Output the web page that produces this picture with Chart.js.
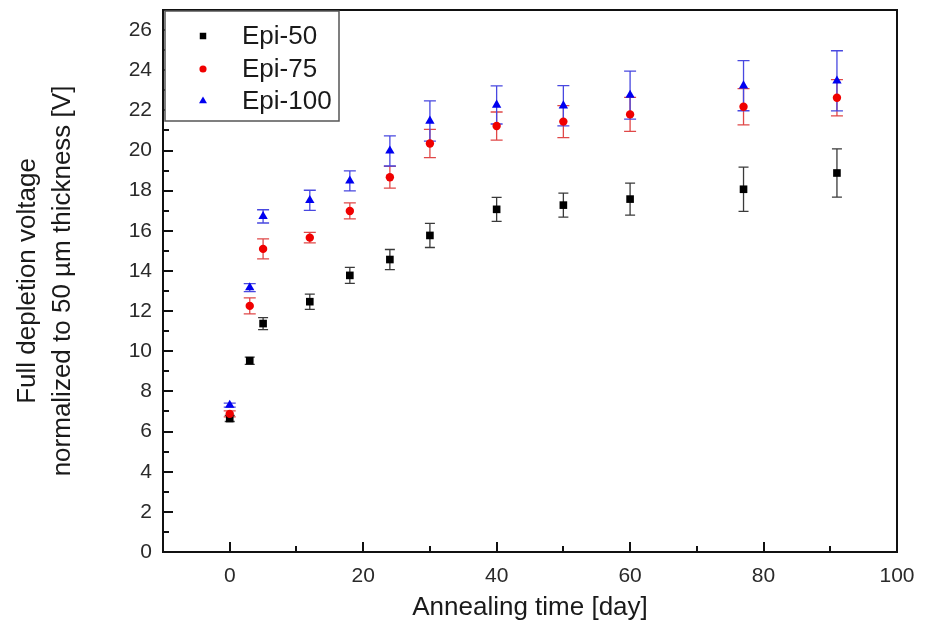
<!DOCTYPE html>
<html><head><meta charset="utf-8">
<script src="https://cdn.jsdelivr.net/npm/chart.js@4.4.1/dist/chart.umd.min.js"></script>
<style>html,body{margin:0;padding:0;background:#fff;}#wrap{width:937px;height:631px;}</style>
</head><body><div id="wrap"><canvas id="c" width="937" height="631"></canvas></div>
<script>
const days = [0, 3, 5, 12, 18, 24, 30, 40, 50, 60, 77, 91];
const epi50 = [6.65, 9.53, 11.38, 12.47, 13.78, 14.57, 15.77, 17.07, 17.28, 17.58, 18.07, 18.88];
const err50 = [0.15, 0.18, 0.3, 0.38, 0.4, 0.5, 0.6, 0.6, 0.6, 0.8, 1.1, 1.2];
const epi75 = [6.88, 12.26, 15.1, 15.66, 16.99, 18.67, 20.35, 21.22, 21.44, 21.8, 22.18, 22.63];
const err75 = [0.15, 0.4, 0.5, 0.26, 0.4, 0.54, 0.7, 0.7, 0.8, 0.85, 0.9, 0.9];
const epi100 = [7.32, 13.17, 16.72, 17.52, 18.49, 19.98, 21.47, 22.27, 22.23, 22.76, 23.23, 23.47];
const err100 = [0.1, 0.2, 0.33, 0.5, 0.5, 0.75, 1.0, 0.95, 1.0, 1.2, 1.25, 1.5];
const seriesLabels = ['Epi-50', 'Epi-75', 'Epi-100'];
const xTickLabels = [0, 20, 40, 60, 80, 100];
const yTickLabels = [0, 2, 4, 6, 8, 10, 12, 14, 16, 18, 20, 22, 24, 26];
const xTitle = 'Annealing time [day]';
const yTitle = ['Full depletion voltage', 'normalized to 50 \u00b5m thickness [V]'];

const FONT = "'Liberation Sans', Arial, sans-serif";
const toPts = (vals) => days.map((d, i) => ({x: d, y: vals[i]}));
const errSets = [err50, err75, err100];
const errColors = ['#3a3a3a', '#e04848', '#4848e0'];
const capW = [5, 6, 6];

const overlay = {
  id: 'overlay',
  beforeDatasetsDraw(chart) {
    const {ctx, scales: {x, y}} = chart;
    chart.data.datasets.forEach((ds, i) => {
      const errs = errSets[i];
      ctx.save();
      ctx.strokeStyle = errColors[i];
      ctx.lineWidth = 1.3;
      ds.data.forEach((p, j) => {
        const px = x.getPixelForValue(p.x);
        const yt = y.getPixelForValue(p.y + errs[j]);
        const yb = y.getPixelForValue(p.y - errs[j]);
        ctx.beginPath();
        ctx.moveTo(px, yt); ctx.lineTo(px, yb);
        ctx.moveTo(px - capW[i], yt); ctx.lineTo(px + capW[i], yt);
        ctx.moveTo(px - capW[i], yb); ctx.lineTo(px + capW[i], yb);
        ctx.stroke();
      });
      ctx.restore();
    });
  },
  afterDatasetsDraw(chart) {
    const {ctx, chartArea: a, scales: {x, y}} = chart;
    ctx.save();
    ctx.strokeStyle = '#111';
    ctx.lineWidth = 2;
    ctx.strokeRect(a.left, a.top, a.right - a.left, a.bottom - a.top);
    ctx.beginPath();
    x.ticks.forEach(t => {
      if (t.value <= x.min || t.value >= x.max) return;
      const px = Math.round(x.getPixelForValue(t.value));
      const len = xTickLabels.includes(t.value) ? 10 : 6;
      ctx.moveTo(px, a.bottom); ctx.lineTo(px, a.bottom - len);
    });
    y.ticks.forEach(t => {
      if (t.value <= y.min || t.value >= y.max) return;
      const py = Math.round(y.getPixelForValue(t.value));
      const len = yTickLabels.includes(t.value) ? 10 : 6;
      ctx.moveTo(a.left, py); ctx.lineTo(a.left + len, py);
    });
    ctx.stroke();
    // legend
    const lx = a.left + 2, ly = a.top + 1, lw = 174, lh = 110;
    ctx.fillStyle = '#fff';
    ctx.fillRect(lx, ly, lw, lh);
    ctx.strokeStyle = '#555';
    ctx.lineWidth = 1.5;
    ctx.strokeRect(lx, ly, lw, lh);
    const rows = [ly + 25, ly + 58, ly + 90];
    ctx.font = '26px ' + FONT;
    ctx.textBaseline = 'middle';
    ctx.textAlign = 'left';
    seriesLabels.forEach((lab, i) => {
      const ds = chart.data.datasets[i];
      ctx.fillStyle = ds.backgroundColor;
      Chart.helpers.drawPoint(ctx, {pointStyle: ds.pointStyle, radius: ds.pointRadius * 0.85, rotation: 0, borderWidth: 0}, 203, rows[i]);
      ctx.fillStyle = '#1a1a1a';
      ctx.fillText(lab, 242, rows[i] + 1);
    });
    ctx.restore();
  }
};

new Chart(document.getElementById('c'), {
  type: 'scatter',
  data: {
    datasets: [
      {label: seriesLabels[0], data: toPts(epi50), pointStyle: 'rect', pointRadius: 5.4, backgroundColor: '#000', borderColor: '#000', borderWidth: 0, order: 2},
      {label: seriesLabels[1], data: toPts(epi75), pointStyle: 'circle', pointRadius: 4.2, backgroundColor: '#f00000', borderColor: '#f00000', borderWidth: 0, order: 1},
      {label: seriesLabels[2], data: toPts(epi100), pointStyle: 'triangle', pointRadius: 5.4, backgroundColor: '#0000f0', borderColor: '#0000f0', borderWidth: 0, order: 0}
    ]
  },
  options: {
    responsive: false,
    animation: false,
    devicePixelRatio: 1,
    layout: {padding: {top: 10, right: 40, left: 0, bottom: 0}},
    plugins: {legend: {display: false}, tooltip: {enabled: false}},
    scales: {
      x: {
        type: 'linear', min: -10, max: 100,
        ticks: {stepSize: 10, autoSkip: false, maxRotation: 0, padding: 12, color: '#2a2a2a', font: {family: FONT, size: 21},
          callback: v => xTickLabels.includes(v) ? String(v) : ''},
        grid: {display: true, drawOnChartArea: false, drawTicks: false},
        border: {display: false},
        title: {display: true, text: xTitle, color: '#1a1a1a', font: {family: FONT, size: 26}, padding: {top: 0, bottom: 8}},
        afterFit: s => { s.height = 79; s.paddingLeft = 0; s.paddingRight = 0; }
      },
      y: {
        type: 'linear', min: 0, max: 27,
        ticks: {stepSize: 1, autoSkip: false, padding: 11, color: '#2a2a2a', font: {family: FONT, size: 21},
          callback: v => yTickLabels.includes(v) ? String(v) : ''},
        grid: {display: true, drawOnChartArea: false, drawTicks: false},
        border: {display: false},
        title: {display: true, text: yTitle, color: '#1a1a1a', font: {family: FONT, size: 26, lineHeight: 1.35}, padding: {top: 10, bottom: 0}},
        afterFit: s => { s.width = 163; s.paddingTop = 0; s.paddingBottom = 0; }
      }
    }
  },
  plugins: [overlay]
});
</script>
</body></html>
